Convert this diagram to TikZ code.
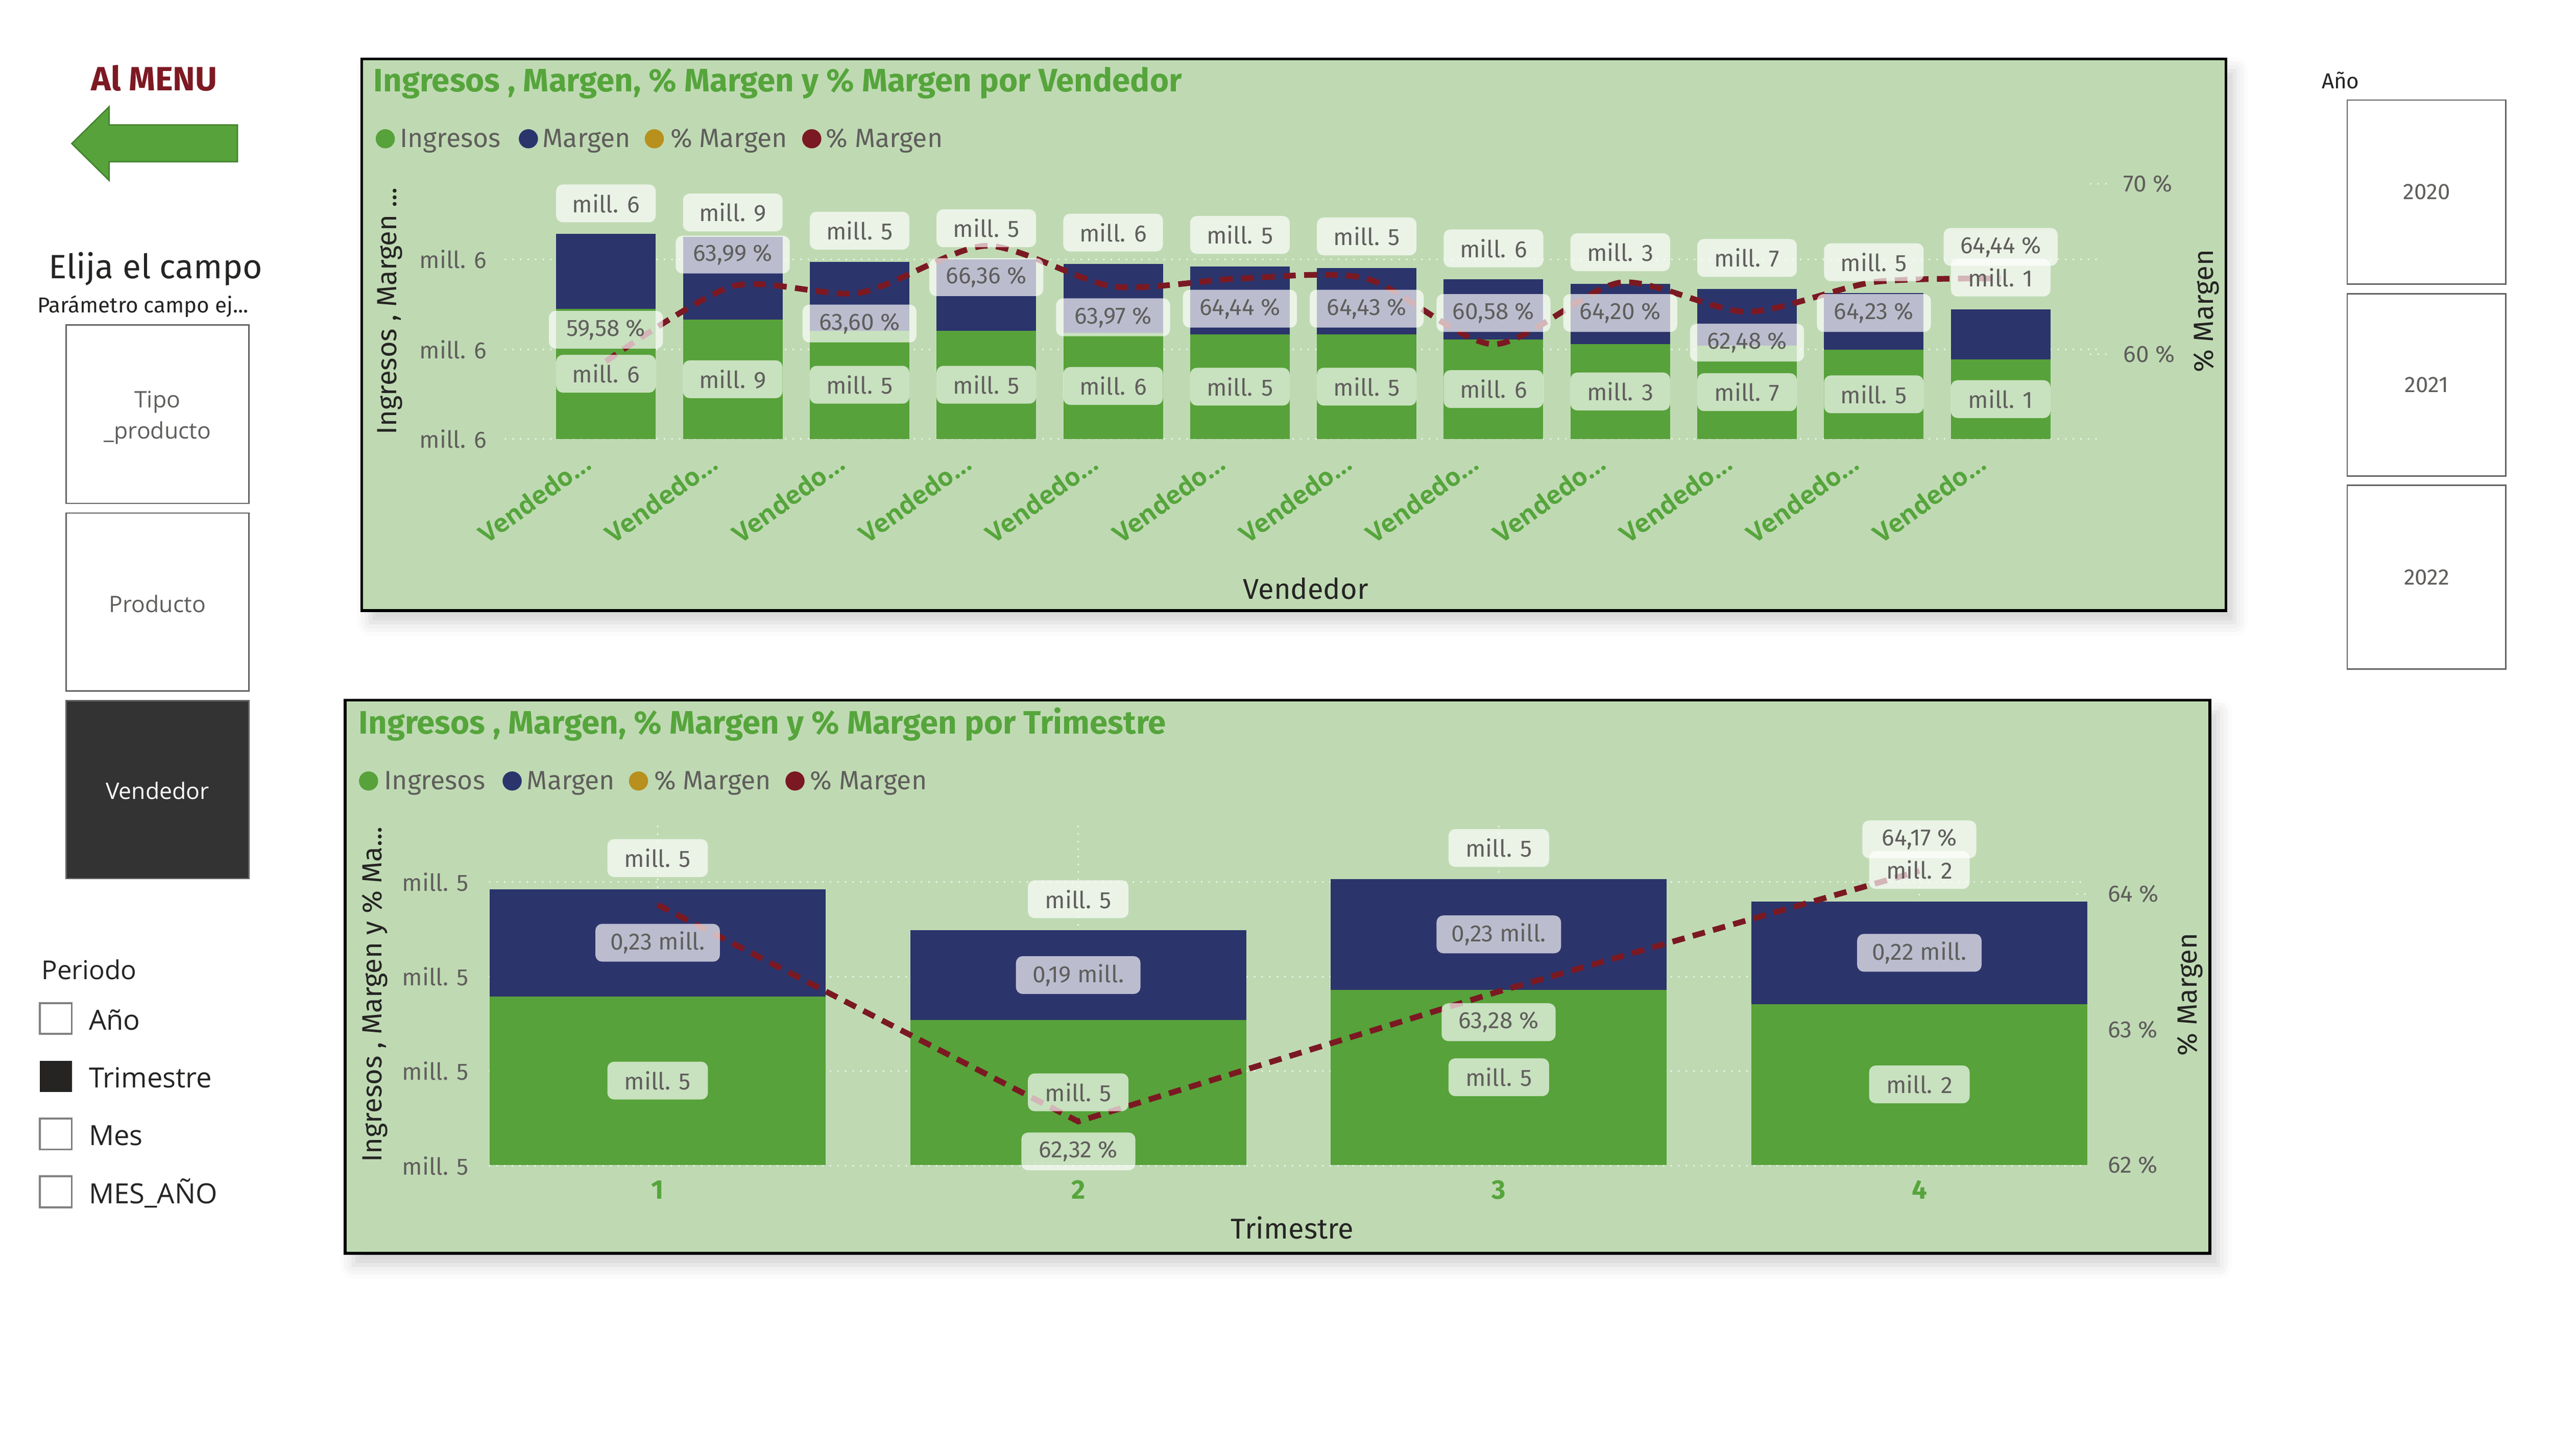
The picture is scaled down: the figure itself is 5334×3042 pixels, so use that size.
\documentclass[tikz,border=0pt]{standalone}
\usepackage{fontspec}
\setmainfont{Fira Sans}
\newfontfamily\uifont{Open Sans}
\usetikzlibrary{shadows.blur}

\definecolor{panelbg}{RGB}{191,218,179}
\definecolor{barg}{RGB}{87,162,58}
\definecolor{barn}{RGB}{44,52,108}
\definecolor{goldm}{RGB}{184,144,30}
\definecolor{wine}{RGB}{123,25,35}
\definecolor{titleg}{RGB}{86,165,60}
\definecolor{txtg}{RGB}{96,94,92}
\definecolor{txtd}{RGB}{37,36,35}
\definecolor{boxgray}{RGB}{100,100,100}
\definecolor{slicerdark}{RGB}{51,51,51}
\definecolor{arrowd}{RGB}{66,130,45}
\definecolor{menured}{RGB}{125,25,35}
\newcommand{\fsz}[2]{\fontsize{#1}{#2}\selectfont}

\def\vdata{1/489/645/6/425/59.58/{59,58}/689,
 2/495/668/9/444/63.99/{63,99}/532,
 3/547/691/5/482/63.60/{63,60}/676,
 4/542/691/5/477/66.36/{66,36}/579,
 5/552/696/6/486/63.97/{63,97}/663,
 6/557/699/5/491/64.44/{64,44}/645,
 7/560/699/5/494/64.43/{64,43}/645,
 8/584/709/6/519/60.58/{60,58}/654,
 9/593/719/3/527/64.20/{64,20}/654,
 10/604/722/7/539/62.48/{62,48}/716,
 11/612/731/5/548/64.23/{64,23}/654,
 12/646/751/1/580/64.44/{64,44}/516}
\def\qdata{1/1858/2082/1793/{0,23}/5,
 2/1944/2131/1879/{0,19}/5,
 3/1837/2068/1772/{0,23}/5,
 4/1884/2098/1818/{0,22}/2}

\begin{document}
\begin{tikzpicture}
	[x=0.01cm,y=-0.01cm,
	panel/.style={fill=panelbg,draw=black,line width=1.6pt,
		blur shadow={shadow xshift=5pt,shadow yshift=-7pt,shadow opacity=18,shadow blur radius=8pt}},
	gridln/.style={draw=white,draw opacity=0.8,line width=1.1pt,dash pattern=on 0pt off 4.5pt,line cap=round},
	lbl/.style={rounded corners=4pt,fill=white,fill opacity=0.68,text opacity=1,text=txtg,
		minimum height=0.79cm,inner sep=0pt,font={\fsz{14}{16}}},
	valbox/.style={lbl,minimum width=2.08cm},
	pctbox/.style={lbl,minimum width=2.38cm},
	navbox/.style={lbl,minimum width=2.6cm},
	tick/.style={text=txtg,inner sep=0pt,font={\fsz{14}{16}}},
	legtxt/.style={anchor=base west,text=txtg,inner sep=0pt,font={\fsz{15.7}{18}}},
	axtitle/.style={text=txtd,inner sep=0pt,rotate=90,font={\fsz{16.5}{18}}},
	cattxt/.style={anchor=base east,rotate=36,text=titleg,inner sep=0pt,font={\uifont\bfseries\fsz{15}{17}}},
	ptitle/.style={anchor=base west,text=titleg,inner sep=0pt,font={\bfseries\fsz{19.3}{22}}},
	slicer/.style={draw=boxgray,line width=0.8pt,fill=white},
	slicertxt/.style={text=txtg,align=center,font={\uifont\fsz{13.5}{18.5}}},
	chk/.style={draw=gray,line width=1.1pt,fill=white},
	itemtxt/.style={anchor=base west,text=txtd,inner sep=0pt,font={\uifont\fsz{16.5}{19}}},
	mline/.style={draw=wine,line width=3.4pt,dash pattern=on 7.5pt off 5pt}]
	\useasboundingbox (0,0) rectangle (5334,3042);
	
	\node[anchor=base,text=menured,inner sep=0pt,font={\bfseries\fsz{20}{24}}] (menu) at (322,189) {Al MENU};
	\filldraw[fill=barg,draw=arrowd,line width=0.8pt] (150,300) -- (228,223) -- (228,261) -- (496,261)
		-- (496,338) -- (228,338) -- (228,377) -- cycle;
	\node[anchor=base,text=txtd,inner sep=0pt,font={\fsz{20}{24}}] (elija) at (325,582) {Elija el campo};
	\node[anchor=base,text=txtd,inner sep=0pt,font={\fsz{12.8}{15}}] (param) at (299,653) {Parámetro campo ej...};
	\draw[slicer] (138,679) rectangle (520,1052);
	\draw[slicer] (138,1072) rectangle (520,1444);
	\draw[slicer,fill=slicerdark] (138,1464) rectangle (520,1836);
	\node[slicertxt] (tipo) at (329,873) {Tipo\\\_producto};
	\node[slicertxt] (prod) at (329,1262) {Producto};
	\node[slicertxt,text=white] (vend) at (329,1652) {Vendedor};
	
	\node[anchor=base west,text=txtd,inner sep=0pt,font={\uifont\fsz{15.5}{18}}] (periodo) at (86,2047) {Periodo};
	\draw[chk] (83,2096) rectangle (150,2160);
	\fill[txtd] (83,2217) rectangle (150,2282);
	\draw[chk] (83,2337) rectangle (150,2402);
	\draw[chk] (83,2458) rectangle (150,2523);
	\node[itemtxt] (ano) at (185,2152) {Año};
	\node[itemtxt] (trim) at (185,2273) {Trimestre};
	\node[itemtxt] (mes) at (185,2393) {Mes};
	\node[itemtxt] (mesano) at (185,2515) {MES\_AÑO};
	
	\node[anchor=base west,text=txtd,inner sep=0pt,font={\fsz{12.8}{15}}] (anohdr) at (4850,185) {Año};
	\foreach \ya/\yb/\yr in {209/594/2020,614/995/2021,1014/1398/2022}{
		\draw[slicer] (4904,\ya) rectangle (5235,\yb);
		\node[text=txtg,font={\fsz{13.3}{16}}] (y\yr) at (5070,{(\ya+\yb)/2}) {\yr};
	}
	
	\draw[panel] (756,123) rectangle (4651,1276);
	\node[ptitle] (title1) at (780,192) {Ingresos , Margen, \% Margen y \% Margen por Vendedor};
	\foreach \cd/\col/\tx/\lab in {805/barg/835/Ingresos,1104/barn/1133/Margen,1367/goldm/1400/{\% Margen},1696/wine/1725/{\% Margen}}{
		\fill[\col] (\cd,290) circle[radius=0.2cm];
		\node[legtxt] (la\tx) at (\tx,308) {\lab};
	}
	\foreach \y in {542,730,917}
	\draw[gridln] (1056,\y) -- (4389,\y);
	\foreach \y in {384,740}
	\draw[gridln] (4368,\y) -- (4400,\y);
	\foreach \y in {542,730,917}
	\node[tick,anchor=east] (ta\y) at (1018,\y) {mill. 6};
	\node[tick,anchor=west] (tr70) at (4436,384) {70 \%};
	\node[tick,anchor=west] (tr60) at (4436,740) {60 \%};
	\node[axtitle] (ax1) at (815,650) {Ingresos , Margen ...};
	\node[axtitle] (ax2) at (4610,650) {\% Margen};
	\node[text=txtd,inner sep=0pt,font={\fsz{17}{19}}] (xt1) at (2728,1230) {Vendedor};
	
	\foreach \ix/\ytop/\yb/\val/\yval/\pc/\pctxt/\ypc in \vdata{
		\pgfmathsetmacro\cx{1266+(\ix-1)*264.9}
		\pgfmathsetmacro\my{740-(\pc-60)*35.6}
		\fill[barg] (\cx-104,917) rectangle (\cx+104,\yb);
		\fill[barn] (\cx-104,\yb) rectangle (\cx+104,\ytop);
		\coordinate (v\ix) at (\cx,\my);
		\node[cattxt] (c\ix) at (\cx-26,976) {Vendedo…};
	}
	\draw[mline] plot[smooth,tension=0.45] coordinates {(v1) (v2) (v3) (v4) (v5) (v6) (v7) (v8) (v9) (v10) (v11) (v12)};
	\foreach \ix/\ytop/\yb/\val/\yval/\pc/\pctxt/\ypc in \vdata{
		\pgfmathsetmacro\cx{1266+(\ix-1)*264.9}
		\node[pctbox] (p\ix) at (\cx,\ypc) {\pctxt~\%};
		\node[valbox] (t\ix) at (\cx,\yval) {mill. \val};
		\node[valbox] (g\ix) at (\cx,{(\yb+917)/2}) {mill. \val};
	}
	
	\draw[panel] (721,1463) rectangle (4617,2619);
	\node[ptitle] (title2) at (749,1533) {Ingresos , Margen, \% Margen y \% Margen por Trimestre};
	\foreach \cd/\col/\tx/\lab in {770/barg/802/Ingresos,1070/barn/1100/Margen,1334/goldm/1366/{\% Margen},1661/wine/1692/{\% Margen}}{
		\fill[\col] (\cd,1632) circle[radius=0.2cm];
		\node[legtxt] (lb\tx) at (\tx,1650) {\lab};
	}
	\foreach \y in {1843,2041,2238,2436}{
		\draw[gridln] (1023,\y) -- (4361,\y);
		\node[tick,anchor=east] (tb\y) at (980,\y) {mill. 5};
	}
	\foreach \y in {1868,2152}
	\draw[gridln] (4340,\y) -- (4366,\y);
	\foreach \y/\pl in {1868/64,2152/63,2434/62}
	\node[tick,anchor=west] (tq\pl) at (4403,\y) {\pl~\%};
	\node[axtitle] (ax3) at (783,2078) {Ingresos , Margen y \% Ma...};
	\node[axtitle] (ax4) at (4575,2078) {\% Margen};
	\node[text=txtd,inner sep=0pt,font={\fsz{17}{19}}] (xt2) at (2700,2566) {Trimestre};
	
	\foreach \ix/\pc in {1/63.92,2/62.32,3/63.28,4/64.17}{
		\pgfmathsetmacro\cx{1374+(\ix-1)*878.7}
		\draw[gridln] (\cx,1727) -- (\cx,2434);
		\coordinate (w\ix) at (\cx,{2434-(\pc-62)*283});
	}
	\foreach \ix/\ytop/\yb/\yval/\nav/\val in \qdata{
		\pgfmathsetmacro\cx{1374+(\ix-1)*878.7}
		\fill[barg] (\cx-351,2434) rectangle (\cx+351,\yb);
		\fill[barn] (\cx-351,\yb) rectangle (\cx+351,\ytop);
		\node[anchor=base,text=titleg,inner sep=0pt,font={\bfseries\fsz{16}{18}}] (q\ix) at (\cx,2505) {\ix};
	}
	\draw[mline] (w1) -- (w2) -- (w3) -- (w4);
	\node[pctbox] (r2) at (2253,2406) {62,32 \%};
	\node[pctbox] (r3) at (3131,2136) {63,28 \%};
	\node[pctbox] (r4) at (4010,1754) {64,17 \%};
	\foreach \ix/\ytop/\yb/\yval/\nav/\val in \qdata{
		\pgfmathsetmacro\cx{1374+(\ix-1)*878.7}
		\node[valbox,minimum width=2.1cm] (u\ix) at (\cx,\yval) {mill. \val};
		\node[navbox] (n\ix) at (\cx,{(\ytop+\yb)/2}) {\nav~mill.};
		\node[valbox,minimum width=2.1cm] (h\ix) at (\cx,{(\yb+2434)/2}) {mill. \val};
	}
	
\end{tikzpicture}
\end{document}
